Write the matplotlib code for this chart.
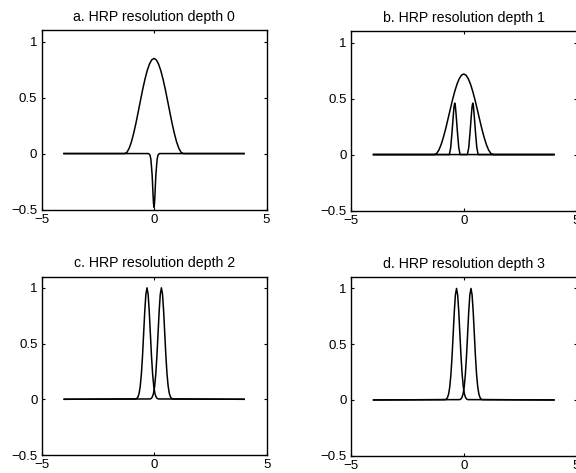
import numpy as np
import matplotlib
matplotlib.use("Agg")
import matplotlib.pyplot as plt

# values (x, y pairs per curve)
# a. depth 0: wide bump and negative spike
a_bump_x = [-4, -1.3, -1.2, -1.1, -1.0, -0.9, -0.8, -0.7, -0.6, -0.5, -0.4,
            -0.3, -0.2, -0.1, 0.0, 0.1, 0.2, 0.3, 0.4, 0.5, 0.6, 0.7, 0.8,
            0.9, 1.0, 1.1, 1.2, 1.3, 4]
a_bump_y = [0, 0, 0.012, 0.049, 0.107, 0.184, 0.274, 0.374, 0.476, 0.576,
            0.666, 0.743, 0.801, 0.838, 0.85, 0.838, 0.801, 0.743, 0.666,
            0.576, 0.476, 0.374, 0.274, 0.184, 0.107, 0.049, 0.012, 0, 0]
a_spike_x = [-4, -0.24, -0.18, -0.14, -0.11, -0.08, -0.06, -0.04, -0.02, 0.0,
             0.02, 0.04, 0.06, 0.08, 0.11, 0.14, 0.18, 0.24, 4]
a_spike_y = [0, 0, -0.012, -0.05, -0.12, -0.2, -0.29, -0.38, -0.45,
             -0.48, -0.45, -0.38, -0.29, -0.2, -0.12, -0.05, -0.012,
             0, 0]

# b. depth 1: wide bump plus two narrow peaks
b_bump_x = a_bump_x
b_bump_y = [0, 0, 0.010, 0.042, 0.091, 0.156, 0.232, 0.317, 0.403, 0.488,
            0.564, 0.629, 0.678, 0.710, 0.72, 0.710, 0.678, 0.629, 0.564,
            0.488, 0.403, 0.317, 0.232, 0.156, 0.091, 0.042, 0.010, 0, 0]
b_left_x = [-4, -0.64, -0.58, -0.52, -0.46, -0.43, -0.4, -0.37, -0.34, -0.28,
            -0.22, -0.16, 4]
b_right_x = [-4, 0.16, 0.22, 0.28, 0.34, 0.37, 0.4, 0.43, 0.46, 0.52, 0.58,
             0.64, 4]
b_peak_y = [0, 0, 0.06, 0.2, 0.36, 0.43, 0.46, 0.43, 0.36, 0.2, 0.06, 0, 0]

# c. depth 2: two narrow peaks
c_left_x = [-4, -0.82, -0.77, -0.72, -0.67, -0.62, -0.57, -0.52, -0.47,
            -0.42, -0.37, -0.32, -0.27, -0.22, -0.17, -0.12, -0.07, -0.02,
            0.03, 0.08, 0.13, 0.18, 4]
c_right_x = [-4, -0.18, -0.13, -0.08, -0.03, 0.02, 0.07, 0.12, 0.17, 0.22,
             0.27, 0.32, 0.37, 0.42, 0.47, 0.52, 0.57, 0.62, 0.67, 0.72,
             0.77, 0.82, 4]
c_peak_y = [0, 0.003, 0.008, 0.022, 0.054, 0.118, 0.226, 0.386, 0.586,
            0.788, 0.942, 1.0, 0.942, 0.788, 0.586, 0.386, 0.226, 0.118,
            0.054, 0.022, 0.008, 0.003, 0]

# d. depth 3: looks the same as c
d_left_x = c_left_x
d_right_x = c_right_x
d_peak_y = c_peak_y

titles = ["a. HRP resolution depth 0", "b. HRP resolution depth 1",
          "c. HRP resolution depth 2", "d. HRP resolution depth 3"]
xticks = [-5, 0, 5]
yticks = [-0.5, 0, 0.5, 1]
ytick_labels = ["\u22120.5", "0", "0.5", "1"]
xtick_labels = ["\u22125", "0", "5"]

panels = [
    [(a_bump_x, a_bump_y), (a_spike_x, a_spike_y)],
    [(b_bump_x, b_bump_y), (b_left_x, b_peak_y), (b_right_x, b_peak_y)],
    [(c_left_x, c_peak_y), (c_right_x, c_peak_y)],
    [(d_left_x, d_peak_y), (d_right_x, d_peak_y)],
]

plt.rcParams["font.family"] = ["Liberation Sans", "DejaVu Sans"]

W, H = 576, 473
fig = plt.figure(figsize=(W / 100, H / 100), dpi=100)

# axes boxes in pixels: left, top, right, bottom
# (right-hand panels run off the edge of the scan)
boxes = [(41.5, 30.5, 266.5, 209.5), (351, 31.5, 576.5, 210.5),
         (41.7, 276.7, 266.7, 455), (351, 277.3, 576.5, 455.7)]

for box, curves, title in zip(boxes, panels, titles):
    l, t, r, b = box
    ax = fig.add_axes([l / W, 1 - b / H, (r - l) / W, (b - t) / H])
    for xs, ys in curves:
        ax.plot(xs, ys, color="black", lw=1.1)
    ax.set_xlim(-5, 5)
    ax.set_ylim(-0.5, 1.1)
    ax.set_xticks(xticks)
    ax.set_xticklabels(xtick_labels)
    ax.set_yticks(yticks)
    ax.set_yticklabels(ytick_labels)
    ax.tick_params(direction="in", length=2.5, width=0.8, top=True,
                   right=True, labelsize=9.5, pad=3)
    for sp in ax.spines.values():
        sp.set_linewidth(1.0)
    ax.set_title(title, fontsize=10.2, pad=7)

fig.savefig("out.png", dpi=100)
